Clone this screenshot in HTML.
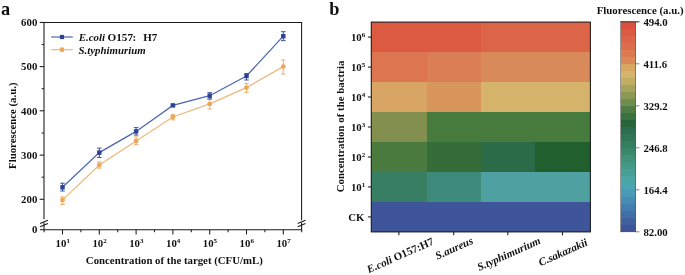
<!DOCTYPE html>
<html><head><meta charset="utf-8"><style>
html,body{margin:0;padding:0;background:#fff;width:685px;height:275px;overflow:hidden}
svg{position:absolute;left:0;top:0;will-change:transform}
text{font-family:"Liberation Serif",serif;font-weight:bold;fill:#111}
</style></head><body>
<svg width="685" height="275" viewBox="0 0 685 275">
<g shape-rendering="crispEdges"><rect x="371.30" y="22.10" width="55.60" height="30.37" fill="#dc5a40"/><rect x="426.50" y="22.10" width="54.80" height="30.37" fill="#dc5a40"/><rect x="480.90" y="22.10" width="54.20" height="30.37" fill="#dc6548"/><rect x="534.70" y="22.10" width="56.10" height="30.37" fill="#dc6548"/><rect x="371.30" y="52.07" width="55.60" height="30.37" fill="#dc7550"/><rect x="426.50" y="52.07" width="54.80" height="30.37" fill="#d97e55"/><rect x="480.90" y="52.07" width="54.20" height="30.37" fill="#d88a5a"/><rect x="534.70" y="52.07" width="56.10" height="30.37" fill="#d88a5a"/><rect x="371.30" y="82.04" width="55.60" height="30.37" fill="#d8a565"/><rect x="426.50" y="82.04" width="54.80" height="30.37" fill="#d8955c"/><rect x="480.90" y="82.04" width="54.20" height="30.37" fill="#d6b36a"/><rect x="534.70" y="82.04" width="56.10" height="30.37" fill="#d6b36a"/><rect x="371.30" y="112.01" width="55.60" height="30.37" fill="#828f4f"/><rect x="426.50" y="112.01" width="54.80" height="30.37" fill="#477a3d"/><rect x="480.90" y="112.01" width="54.20" height="30.37" fill="#477a3d"/><rect x="534.70" y="112.01" width="56.10" height="30.37" fill="#477a3d"/><rect x="371.30" y="141.99" width="55.60" height="30.37" fill="#4a7a3e"/><rect x="426.50" y="141.99" width="54.80" height="30.37" fill="#346d38"/><rect x="480.90" y="141.99" width="54.20" height="30.37" fill="#2b6b48"/><rect x="534.70" y="141.99" width="56.10" height="30.37" fill="#215f2f"/><rect x="371.30" y="171.96" width="55.60" height="30.37" fill="#377e62"/><rect x="426.50" y="171.96" width="54.80" height="30.37" fill="#3e8a7b"/><rect x="480.90" y="171.96" width="54.20" height="30.37" fill="#4fa0a0"/><rect x="534.70" y="171.96" width="56.10" height="30.37" fill="#4fa0a0"/><rect x="371.30" y="201.93" width="55.60" height="30.37" fill="#3f5599"/><rect x="426.50" y="201.93" width="54.80" height="30.37" fill="#3f5599"/><rect x="480.90" y="201.93" width="54.20" height="30.37" fill="#3f5599"/><rect x="534.70" y="201.93" width="56.10" height="30.37" fill="#3f5599"/><rect x="620.5" y="21.80" width="15.00" height="7.30" fill="#dc5040"/><rect x="620.5" y="28.80" width="15.00" height="7.30" fill="#dc5a44"/><rect x="620.5" y="35.80" width="15.00" height="7.30" fill="#dc6449"/><rect x="620.5" y="42.80" width="15.00" height="7.30" fill="#dc6e4d"/><rect x="620.5" y="49.80" width="15.00" height="7.30" fill="#dc7b52"/><rect x="620.5" y="56.80" width="15.00" height="7.30" fill="#da8a58"/><rect x="620.5" y="63.80" width="15.00" height="7.30" fill="#d8a661"/><rect x="620.5" y="70.80" width="15.00" height="7.30" fill="#d6b56a"/><rect x="620.5" y="77.80" width="15.00" height="7.30" fill="#c0ae64"/><rect x="620.5" y="84.80" width="15.00" height="7.30" fill="#a6a35d"/><rect x="620.5" y="91.80" width="15.00" height="7.30" fill="#8c9955"/><rect x="620.5" y="98.80" width="15.00" height="7.30" fill="#6f8d4d"/><rect x="620.5" y="105.80" width="15.00" height="7.30" fill="#4f7d44"/><rect x="620.5" y="112.80" width="15.00" height="7.30" fill="#3a7140"/><rect x="620.5" y="119.80" width="15.00" height="7.30" fill="#27643a"/><rect x="620.5" y="126.80" width="15.00" height="7.30" fill="#2b6d4e"/><rect x="620.5" y="133.80" width="15.00" height="7.30" fill="#307656"/><rect x="620.5" y="140.80" width="15.00" height="7.30" fill="#357f60"/><rect x="620.5" y="147.80" width="15.00" height="7.30" fill="#3a886c"/><rect x="620.5" y="154.80" width="15.00" height="7.30" fill="#3f9178"/><rect x="620.5" y="161.80" width="15.00" height="7.30" fill="#439886"/><rect x="620.5" y="168.80" width="15.00" height="7.30" fill="#47a095"/><rect x="620.5" y="175.80" width="15.00" height="7.30" fill="#4aa5a5"/><rect x="620.5" y="182.80" width="15.00" height="7.30" fill="#4aa5b2"/><rect x="620.5" y="189.80" width="15.00" height="7.30" fill="#489ab6"/><rect x="620.5" y="196.80" width="15.00" height="7.30" fill="#458db4"/><rect x="620.5" y="203.80" width="15.00" height="7.30" fill="#427eae"/><rect x="620.5" y="210.80" width="15.00" height="7.30" fill="#4070a6"/><rect x="620.5" y="217.80" width="15.00" height="7.30" fill="#3f619f"/><rect x="620.5" y="224.80" width="15.00" height="7.30" fill="#3e5399"/></g>
<rect x="371.3" y="22.1" width="219.10" height="209.80" fill="none" stroke="#222" stroke-width="1.1"/><path d="M367.9 37.1H371.3" stroke="#222" stroke-width="1.1"/><path d="M367.9 67.1H371.3" stroke="#222" stroke-width="1.1"/><path d="M367.9 97.0H371.3" stroke="#222" stroke-width="1.1"/><path d="M367.9 127.0H371.3" stroke="#222" stroke-width="1.1"/><path d="M367.9 157.0H371.3" stroke="#222" stroke-width="1.1"/><path d="M367.9 186.9H371.3" stroke="#222" stroke-width="1.1"/><path d="M367.9 216.9H371.3" stroke="#222" stroke-width="1.1"/><path d="M398.9 231.9V235.3" stroke="#222" stroke-width="1.1"/><path d="M453.7 231.9V235.3" stroke="#222" stroke-width="1.1"/><path d="M507.8 231.9V235.3" stroke="#222" stroke-width="1.1"/><path d="M562.5 231.9V235.3" stroke="#222" stroke-width="1.1"/><rect x="620.5" y="21.8" width="15.00" height="210.00" fill="none" stroke="#555" stroke-width="0.6"/><path d="M620.5 21.8H639.4" stroke="#333" stroke-width="0.9"/><path d="M635.5 21.8H639.4" stroke="#666" stroke-width="0.8"/><path d="M635.5 63.8H639.4" stroke="#666" stroke-width="0.8"/><path d="M635.5 105.8H639.4" stroke="#666" stroke-width="0.8"/><path d="M635.5 147.8H639.4" stroke="#666" stroke-width="0.8"/><path d="M635.5 189.8H639.4" stroke="#666" stroke-width="0.8"/><path d="M635.5 231.8H639.4" stroke="#666" stroke-width="0.8"/>
<path d="M44.0 219.2V22.4H301.6V220.2M44.0 222.6V229.7H301.6V222.6M40 229.7H44.0" fill="none" stroke="#1a1a1a" stroke-width="1.05"/><path d="M40.1 223.4L47.9 220.2M40.1 226.7L47.9 223.5" stroke="#1a1a1a" stroke-width="1.05"/><path d="M297.7 223.4L305.5 220.2M297.7 226.7L305.5 223.5" stroke="#1a1a1a" stroke-width="1.05"/><path d="M39.7 22.4H44.0" stroke="#1a1a1a" stroke-width="1.05"/><path d="M39.7 66.6H44.0" stroke="#1a1a1a" stroke-width="1.05"/><path d="M39.7 110.8H44.0" stroke="#1a1a1a" stroke-width="1.05"/><path d="M39.7 155.1H44.0" stroke="#1a1a1a" stroke-width="1.05"/><path d="M39.7 199.3H44.0" stroke="#1a1a1a" stroke-width="1.05"/><path d="M41.7 44.5H44.0" stroke="#1a1a1a" stroke-width="1.05"/><path d="M41.7 88.7H44.0" stroke="#1a1a1a" stroke-width="1.05"/><path d="M41.7 133.0H44.0" stroke="#1a1a1a" stroke-width="1.05"/><path d="M41.7 177.2H44.0" stroke="#1a1a1a" stroke-width="1.05"/><path d="M62.5 229.7V234.4" stroke="#1a1a1a" stroke-width="1.05"/><path d="M99.3 229.7V234.4" stroke="#1a1a1a" stroke-width="1.05"/><path d="M136.1 229.7V234.4" stroke="#1a1a1a" stroke-width="1.05"/><path d="M172.9 229.7V234.4" stroke="#1a1a1a" stroke-width="1.05"/><path d="M209.7 229.7V234.4" stroke="#1a1a1a" stroke-width="1.05"/><path d="M246.5 229.7V234.4" stroke="#1a1a1a" stroke-width="1.05"/><path d="M283.3 229.7V234.4" stroke="#1a1a1a" stroke-width="1.05"/><path d="M44.1 229.7V232.2" stroke="#1a1a1a" stroke-width="1.05"/><path d="M80.9 229.7V232.2" stroke="#1a1a1a" stroke-width="1.05"/><path d="M117.7 229.7V232.2" stroke="#1a1a1a" stroke-width="1.05"/><path d="M154.5 229.7V232.2" stroke="#1a1a1a" stroke-width="1.05"/><path d="M191.3 229.7V232.2" stroke="#1a1a1a" stroke-width="1.05"/><path d="M228.1 229.7V232.2" stroke="#1a1a1a" stroke-width="1.05"/><path d="M264.9 229.7V232.2" stroke="#1a1a1a" stroke-width="1.05"/><path d="M301.7 229.7V232.2" stroke="#1a1a1a" stroke-width="1.05"/>
<polyline points="62.5,200.1 99.3,165.0 136.1,141.0 172.9,117.0 209.7,103.9 246.5,87.6 283.3,66.6" fill="none" stroke="#efb87c" stroke-width="1.25"/><polyline points="62.5,187.3 99.3,152.6 136.1,131.4 172.9,105.4 209.7,95.7 246.5,76.0 283.3,36.2" fill="none" stroke="#4f67b4" stroke-width="1.25"/><path d="M60.2 196.9H64.8M62.5 196.9V204.5M60.2 204.5H64.8" stroke="#eba85c" stroke-width="0.9" fill="none"/><circle cx="62.5" cy="200.1" r="2.45" fill="#eba85c"/><path d="M97.0 161.9H101.6M99.3 161.9V168.2M97.0 168.2H101.6" stroke="#eba85c" stroke-width="0.9" fill="none"/><circle cx="99.3" cy="165.0" r="2.45" fill="#eba85c"/><path d="M133.8 136.9H138.4M136.1 136.9V144.7M133.8 144.7H138.4" stroke="#eba85c" stroke-width="0.9" fill="none"/><circle cx="136.1" cy="141.0" r="2.45" fill="#eba85c"/><path d="M170.6 114.7H175.2M172.9 114.7V119.9M170.6 119.9H175.2" stroke="#eba85c" stroke-width="0.9" fill="none"/><circle cx="172.9" cy="117.0" r="2.45" fill="#eba85c"/><path d="M207.4 99.5H212.0M209.7 99.5V109.0M207.4 109.0H212.0" stroke="#eba85c" stroke-width="0.9" fill="none"/><circle cx="209.7" cy="103.9" r="2.45" fill="#eba85c"/><path d="M244.2 83.5H248.8M246.5 83.5V92.3M244.2 92.3H248.8" stroke="#eba85c" stroke-width="0.9" fill="none"/><circle cx="246.5" cy="87.6" r="2.45" fill="#eba85c"/><path d="M281.0 60.0H285.6M283.3 60.0V74.0M281.0 74.0H285.6" stroke="#eba85c" stroke-width="0.9" fill="none"/><circle cx="283.3" cy="66.6" r="2.45" fill="#eba85c"/><path d="M60.2 183.2H64.8M62.5 183.2V191.0M60.2 191.0H64.8" stroke="#2c4296" stroke-width="0.9" fill="none"/><rect x="60.3" y="185.1" width="4.4" height="4.4" fill="#2c4296"/><path d="M97.0 148.1H101.6M99.3 148.1V157.5M97.0 157.5H101.6" stroke="#2c4296" stroke-width="0.9" fill="none"/><rect x="97.1" y="150.4" width="4.4" height="4.4" fill="#2c4296"/><path d="M133.8 127.6H138.4M136.1 127.6V135.1M133.8 135.1H138.4" stroke="#2c4296" stroke-width="0.9" fill="none"/><rect x="133.9" y="129.2" width="4.4" height="4.4" fill="#2c4296"/><path d="M170.6 104.3H175.2M172.9 104.3V106.5M170.6 106.5H175.2" stroke="#2c4296" stroke-width="0.9" fill="none"/><rect x="170.7" y="103.2" width="4.4" height="4.4" fill="#2c4296"/><path d="M207.4 92.7H212.0M209.7 92.7V98.9M207.4 98.9H212.0" stroke="#2c4296" stroke-width="0.9" fill="none"/><rect x="207.5" y="93.5" width="4.4" height="4.4" fill="#2c4296"/><path d="M244.2 73.6H248.8M246.5 73.6V80.0M244.2 80.0H248.8" stroke="#2c4296" stroke-width="0.9" fill="none"/><rect x="244.3" y="73.8" width="4.4" height="4.4" fill="#2c4296"/><path d="M281.0 31.7H285.6M283.3 31.7V40.6M281.0 40.6H285.6" stroke="#2c4296" stroke-width="0.9" fill="none"/><rect x="281.1" y="34.0" width="4.4" height="4.4" fill="#2c4296"/><path d="M51.2 37H72.8" stroke="#4f67b4" stroke-width="1.2"/><rect x="59.9" y="34.9" width="4.2" height="4.2" fill="#2c4296"/><path d="M51.2 49.7H72.8" stroke="#efb87c" stroke-width="1.2"/><circle cx="62" cy="49.7" r="2.45" fill="#eba85c"/>
<text x="37.3" y="26.099999999999998" text-anchor="end" font-size="10.8" >600</text><text x="37.3" y="70.325" text-anchor="end" font-size="10.8" >500</text><text x="37.3" y="114.55" text-anchor="end" font-size="10.8" >400</text><text x="37.3" y="158.77499999999998" text-anchor="end" font-size="10.8" >300</text><text x="37.3" y="202.99999999999997" text-anchor="end" font-size="10.8" >200</text><text x="37.3" y="233.39999999999998" text-anchor="end" font-size="10.8" >0</text><text x="55.6" y="247.1" font-size="10.8">10<tspan dy="-3.9" font-size="7">1</tspan></text><text x="92.4" y="247.1" font-size="10.8">10<tspan dy="-3.9" font-size="7">2</tspan></text><text x="129.2" y="247.1" font-size="10.8">10<tspan dy="-3.9" font-size="7">3</tspan></text><text x="166.0" y="247.1" font-size="10.8">10<tspan dy="-3.9" font-size="7">4</tspan></text><text x="202.8" y="247.1" font-size="10.8">10<tspan dy="-3.9" font-size="7">5</tspan></text><text x="239.6" y="247.1" font-size="10.8">10<tspan dy="-3.9" font-size="7">6</tspan></text><text x="276.4" y="247.1" font-size="10.8">10<tspan dy="-3.9" font-size="7">7</tspan></text><text x="174.3" y="264.0" text-anchor="middle" font-size="10.8" >Concentration of the target (CFU/mL)</text><text transform="translate(16.3 125.7) rotate(-90)" text-anchor="middle" font-size="10.8">Fluorescence (a.u.)</text><text x="78.7" y="40.8" font-size="10.9" font-style="italic">E.coli</text><text x="107.5" y="40.8" font-size="11.2">O157</text><text x="132.4" y="40.8" font-size="11">:</text><text x="143.3" y="40.8" font-size="11">H7</text><text x="78.5" y="53.8" font-size="10.85" font-style="italic">S.typhimurium</text><text x="1" y="14.8" text-anchor="start" font-size="18.3" >a</text><text x="329.3" y="14.8" text-anchor="start" font-size="18.3" >b</text><text x="350.9" y="41.0" font-size="10.8">10<tspan dy="-3.9" font-size="7">6</tspan></text><text x="350.9" y="71.0" font-size="10.8">10<tspan dy="-3.9" font-size="7">5</tspan></text><text x="350.9" y="100.9" font-size="10.8">10<tspan dy="-3.9" font-size="7">4</tspan></text><text x="350.9" y="130.9" font-size="10.8">10<tspan dy="-3.9" font-size="7">3</tspan></text><text x="350.9" y="160.9" font-size="10.8">10<tspan dy="-3.9" font-size="7">2</tspan></text><text x="350.9" y="190.8" font-size="10.8">10<tspan dy="-3.9" font-size="7">1</tspan></text><text x="364.5" y="220.81428571428572" text-anchor="end" font-size="10.8" >CK</text><text transform="translate(344 126.5) rotate(-90)" text-anchor="middle" font-size="10.85">Concentration of the bactria</text><text x="643.4" y="25.6" text-anchor="start" font-size="10.8" >494.0</text><text x="643.4" y="67.6" text-anchor="start" font-size="10.8" >411.6</text><text x="643.4" y="109.6" text-anchor="start" font-size="10.8" >329.2</text><text x="643.4" y="151.60000000000002" text-anchor="start" font-size="10.8" >246.8</text><text x="643.4" y="193.60000000000002" text-anchor="start" font-size="10.8" >164.4</text><text x="643.4" y="235.60000000000002" text-anchor="start" font-size="10.8" >82.00</text><text x="640.1" y="14.3" text-anchor="middle" font-size="10.85" >Fluorescence (a.u.)</text>
<g class="rl" transform="translate(400.25 255.40) rotate(-24.0)"><text x="0" y="3.5" text-anchor="middle" font-size="11.0"><tspan font-style="italic">E.coli</tspan> O157:H7</text></g><g class="rl" transform="translate(454.15 248.30) rotate(-24.0)"><text x="0" y="3.5" text-anchor="middle" font-size="11.0"><tspan font-style="italic">S.aureus</tspan></text></g><g class="rl" transform="translate(508.85 254.05) rotate(-24.0)"><text x="0" y="3.5" text-anchor="middle" font-size="11.0"><tspan font-style="italic">S.typhimurium</tspan></text></g><g class="rl" transform="translate(563.00 252.45) rotate(-24.0)"><text x="0" y="3.5" text-anchor="middle" font-size="11.0"><tspan font-style="italic">C.sakazakii</tspan></text></g>
</svg>
</body></html>
